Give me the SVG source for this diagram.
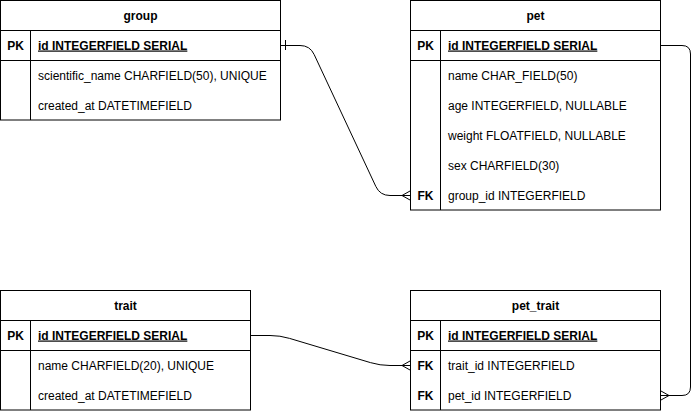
<svg xmlns="http://www.w3.org/2000/svg" width="699" height="411" viewBox="0 0 699 411">
<style>
.box{fill:#fff;stroke:#000;stroke-width:1}
.ln{stroke:#000;stroke-width:1;fill:none}
text{font-family:"Liberation Sans",Arial,sans-serif;font-size:12px;fill:#000}
.title{font-weight:bold;text-anchor:middle}
.key{font-weight:bold;text-anchor:middle}
.pk{font-weight:bold;text-decoration:underline}
.edge{stroke:#000;stroke-width:1;fill:none}
</style>
<rect width="699" height="411" fill="#fff"/>

<g id="group">
<rect class="box" x="0.5" y="0.5" width="280" height="119.5"/>
<line class="ln" x1="0.5" y1="30.5" x2="280.5" y2="30.5"/>
<line class="ln" x1="0.5" y1="60.5" x2="280.5" y2="60.5"/>
<line class="ln" x1="30.5" y1="30.5" x2="30.5" y2="120"/>
<text class="title" x="140.5" y="19.5">group</text>
<text class="key" x="15.5" y="49.5">PK</text>
<text class="pk" x="38" y="49.5">id INTEGERFIELD SERIAL</text>
<text x="38" y="79.5">scientific_name CHARFIELD(50), UNIQUE</text>
<text x="38" y="109.5">created_at DATETIMEFIELD</text>
</g>

<g id="pet">
<rect class="box" x="410.5" y="0.5" width="250" height="209.5"/>
<line class="ln" x1="410.5" y1="30.5" x2="660.5" y2="30.5"/>
<line class="ln" x1="410.5" y1="60.5" x2="660.5" y2="60.5"/>
<line class="ln" x1="440.5" y1="30.5" x2="440.5" y2="210"/>
<text class="title" x="535.5" y="19.5">pet</text>
<text class="key" x="425.5" y="49.5">PK</text>
<text class="pk" x="448" y="49.5">id INTEGERFIELD SERIAL</text>
<text x="448" y="79.5">name CHAR_FIELD(50)</text>
<text x="448" y="109.5">age INTEGERFIELD, NULLABLE</text>
<text x="448" y="139.5">weight FLOATFIELD, NULLABLE</text>
<text x="448" y="169.5">sex CHARFIELD(30)</text>
<text class="key" x="425.5" y="199.5">FK</text>
<text x="448" y="199.5">group_id INTEGERFIELD</text>
</g>

<g id="trait">
<rect class="box" x="0.5" y="290.5" width="250" height="119.5"/>
<line class="ln" x1="0.5" y1="320.5" x2="250.5" y2="320.5"/>
<line class="ln" x1="0.5" y1="350.5" x2="250.5" y2="350.5"/>
<line class="ln" x1="30.5" y1="320.5" x2="30.5" y2="410"/>
<text class="title" x="125.5" y="309.5">trait</text>
<text class="key" x="15.5" y="339.5">PK</text>
<text class="pk" x="38" y="339.5">id INTEGERFIELD SERIAL</text>
<text x="38" y="369.5">name CHARFIELD(20), UNIQUE</text>
<text x="38" y="399.5">created_at DATETIMEFIELD</text>
</g>

<g id="pet_trait">
<rect class="box" x="410.5" y="290.5" width="250" height="119.5"/>
<line class="ln" x1="410.5" y1="320.5" x2="660.5" y2="320.5"/>
<line class="ln" x1="410.5" y1="350.5" x2="660.5" y2="350.5"/>
<line class="ln" x1="440.5" y1="320.5" x2="440.5" y2="410"/>
<text class="title" x="535.5" y="309.5">pet_trait</text>
<text class="key" x="425.5" y="339.5">PK</text>
<text class="pk" x="448" y="339.5">id INTEGERFIELD SERIAL</text>
<text class="key" x="425.5" y="369.5">FK</text>
<text x="448" y="369.5">trait_id INTEGERFIELD</text>
<text class="key" x="425.5" y="399.5">FK</text>
<text x="448" y="399.5">pet_id INTEGERFIELD</text>
</g>

<g id="connectors">
<path class="edge" d="M281 45.5 L300 45.5 Q310 45.5 314.2 54.6 L375.8 186.4 Q380 195.5 390 195.5 L410 195.5"/>
<line class="edge" x1="285.5" y1="40" x2="285.5" y2="50"/>
<path class="edge" d="M410 191 L402 195.5 L410 200"/>

<path class="edge" d="M251 335.5 L270 335.5 Q280 335.5 289.6 338.4 L370.4 362.6 Q380 365.5 390 365.5 L410 365.5"/>
<path class="edge" d="M410 361 L402 365.5 L410 370"/>

<path class="edge" d="M661 45.5 L682 45.5 Q690.5 45.5 690.5 54 L690.5 387 Q690.5 395.5 682 395.5 L661 395.5"/>
<path class="edge" d="M661 391 L669 395.5 L661 400"/>
</g>
</svg>
